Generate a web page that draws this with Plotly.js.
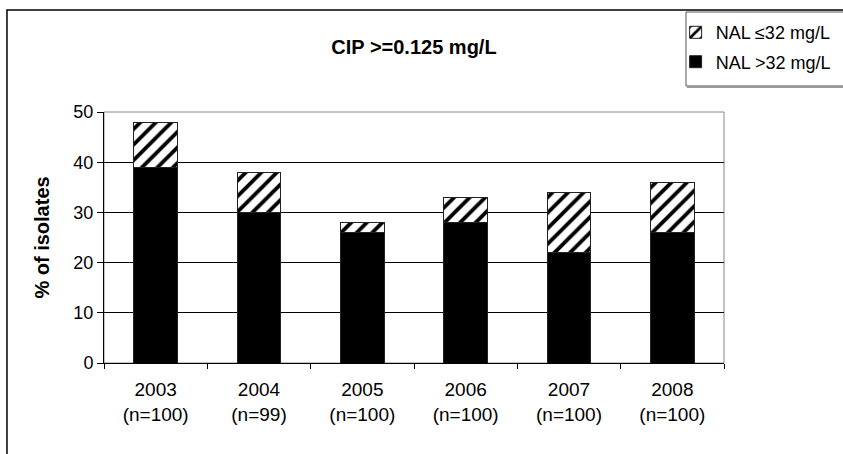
<!DOCTYPE html>
<html>
<head>
<meta charset="utf-8">
<script src="https://cdn.plot.ly/plotly-3.0.1.min.js"></script>
<style>html,body{margin:0;padding:0;background:#fff;}#chart{width:843px;height:454px;}</style>
</head>
<body>
<div id="chart"></div>
<script>
var categories = ['2003<br>(n=100)', '2004<br>(n=99)', '2005<br>(n=100)', '2006<br>(n=100)', '2007<br>(n=100)', '2008<br>(n=100)'];
var nalHigh = [39, 30, 26, 28, 22, 26];
var nalLow = [9, 8, 2, 5, 12, 10];
var seriesNames = ['NAL >32 mg/L', 'NAL \u226432 mg/L'];
var yTicks = [0, 10, 20, 30, 40, 50];

var traces = [
  {
    type: 'bar', name: seriesNames[0], x: categories, y: nalHigh, legendgroup: 'g1', legendrank: 2,
    marker: {color: '#000000', line: {color: '#222222', width: 1}},
    hoverinfo: 'skip'
  },
  {
    type: 'bar', name: seriesNames[1], x: categories, y: nalLow, legendgroup: 'g2', legendrank: 1,
    marker: {color: '#ffffff', line: {color: '#222222', width: 1},
      pattern: {shape: '/', fgcolor: '#000000', bgcolor: '#ffffff', size: 11, solidity: 0.35}},
    hoverinfo: 'skip'
  }
];

var font = 'Liberation Sans, Arial, sans-serif';
var layout = {
  width: 843, height: 454,
  margin: {l: 104, r: 119, t: 112, b: 91, autoexpand: false},
  paper_bgcolor: '#ffffff', plot_bgcolor: '#ffffff',
  barmode: 'stack', bargap: 0.58,
  font: {family: font, color: '#000000', size: 18},
  title: {text: '<b>CIP >=0.125 mg/L</b>', x: 0.4911, xanchor: 'center', y: 0.896, yanchor: 'middle',
    font: {family: font, size: 20, color: '#000000'}},
  xaxis: {
    type: 'category', tickson: 'boundaries', ticks: 'outside', ticklen: 5, tickcolor: '#000',
    showline: true, linecolor: '#000', linewidth: 1, showgrid: false,
    tickfont: {family: font, size: 19}, ticklabelstandoff: 9
  },
  yaxis: {
    range: [0, 50], tickvals: yTicks, ticks: 'outside', ticklen: 6, tickcolor: '#000',
    showline: true, linecolor: '#000', linewidth: 1,
    showgrid: true, gridcolor: '#000000', gridwidth: 1, zeroline: false,
    tickfont: {family: font, size: 18},
    title: {text: '<b>% of isolates</b>', font: {family: font, size: 20}, standoff: 18}
  },
  legend: {
    x: 0.922, xref: 'paper', xanchor: 'left', y: 1.39, yref: 'paper', yanchor: 'top',
    borderwidth: 0, bgcolor: 'rgba(0,0,0,0)',
    font: {family: font, size: 18}, itemwidth: 30,
    traceorder: 'grouped', tracegroupgap: 3
  },
  shapes: [
    {type: 'rect', xref: 'paper', yref: 'paper', x0: 0, x1: 1, y0: 0, y1: 1,
      line: {color: '#888888', width: 1}, layer: 'below'},
    {type: 'rect', xref: 'paper', yref: 'paper', x0: -0.1565, x1: 1.25, y0: -0.4, y1: 1.406,
      line: {color: '#000000', width: 1.5}, layer: 'below'},
    {type: 'rect', xref: 'paper', yref: 'paper', x0: 0.9387, x1: 1.25, y0: 1.1036, y1: 1.3984,
      line: {color: '#555555', width: 1}, fillcolor: '#ffffff', layer: 'above'},
    {type: 'line', xref: 'paper', yref: 'paper', x0: 0.9403, x1: 1.25, y0: 1.0996, y1: 1.0996,
      line: {color: '#999999', width: 2}, layer: 'above'}
  ],
  showlegend: true
};

Plotly.newPlot('chart', traces, layout, {displayModeBar: false, staticPlot: true});
</script>
</body>
</html>
